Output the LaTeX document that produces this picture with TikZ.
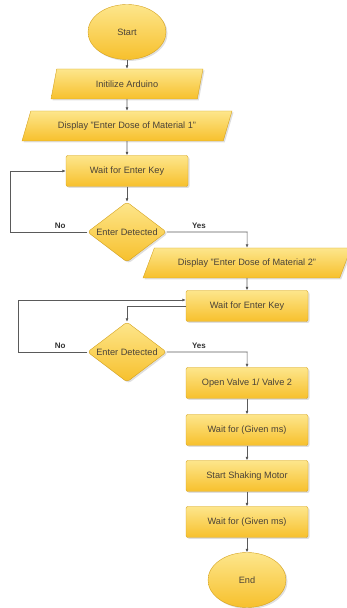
\documentclass[tikz,border=0pt]{standalone}
\usepackage{fontspec}
\setmainfont{Liberation Sans}
\usetikzlibrary{positioning,shapes.geometric,shadows,arrows.meta}

\definecolor{ytop}{HTML}{FDE68C}
\definecolor{ybot}{HTML}{F7C02C}
\definecolor{yline}{HTML}{D5A21E}
\definecolor{ytext}{HTML}{4A4238}
\definecolor{wirecol}{HTML}{5A5A5A}

\tikzset{
  block/.style={draw=yline, top color=ytop, bottom color=ybot,
    text=ytext, font=\fontsize{9.2}{10}\selectfont,
    drop shadow={opacity=0.25, shadow xshift=1.5pt, shadow yshift=-1.5pt}},
  term/.style={block, ellipse, minimum width=78pt, minimum height=55pt},
  io/.style={block, trapezium, trapezium left angle=60, trapezium right angle=120,
    trapezium stretches body, minimum height=30pt, inner sep=2pt},
  proc/.style={block, rectangle, rounded corners=2pt, minimum width=122pt, minimum height=31pt},
  test/.style={block, diamond, rounded corners=3pt, aspect=1.3, inner sep=1pt,
    minimum width=79pt, minimum height=60pt},
  wire/.style={draw=wirecol, line width=0.6pt},
  ans/.style={font=\fontsize{8}{9}\selectfont\bfseries, text=black!80, above}
}

\begin{document}
\begin{tikzpicture}[x=1pt, y=1pt, on grid, >={Latex[length=3.5pt,width=3pt]}]
    \useasboundingbox (0,0) rectangle (347,608);
    \node[term] (start) at (127,576) {Start};
    \node[io, minimum width=152pt, trapezium left angle=62, trapezium right angle=118]
      (init) [below=52pt of start] {Initilize Arduino};
    \node[io, minimum width=210pt, trapezium left angle=55, trapezium right angle=125]
      (disp_a) [below=42pt of init] {Display "Enter Dose of Material 1"};
    \node[proc] (wait_a) [below=45pt of disp_a] {Wait for Enter Key};
    \node[test] (det_a) [below=61pt of wait_a] {Enter Detected};
    \node[io, minimum width=208pt, trapezium left angle=48, trapezium right angle=132]
      (disp_b) [below right=31pt and 120pt of det_a] {Display "Enter Dose of Material 2"};
    \node[proc] (wait_b) [below=43pt of disp_b] {Wait for Enter Key};
    \node[test] (det_b) [below left=46pt and 120pt of wait_b] {Enter Detected};
    \node[proc] (valve) [below right=31pt and 120pt of det_b] {Open Valve 1/ Valve 2};
    \node[proc] (delay_a) [below=47pt of valve] {Wait for (Given ms)};
    \node[proc] (shake) [below=46pt of delay_a] {Start Shaking Motor};
    \node[proc] (delay_b) [below=46pt of shake] {Wait for (Given ms)};
    \node[term] (end) [below=58pt of delay_b] {End};

    \path[->, wire]
    (start) edge (init)
    (init) edge (disp_a)
    (disp_a) edge (wait_a)
    (wait_a) edge (det_a)
    (disp_b) edge (wait_b)
    (valve) edge (delay_a)
    (delay_a) edge (shake)
    (shake) edge (delay_b)
    (delay_b) edge (end);

    % first key loop
    \draw[->, wire] (det_a.west) -- node[ans, pos=0.35] {No} ++(-77.5,0) |- (wait_a.west);
    \draw[->, wire] (det_a.east) -- node[ans, pos=0.4] {Yes} ++(80.5,0) -- (disp_b.north);

    % second key loop
    \draw[->, wire] (wait_b.west) -| (det_b.north);
    \draw[->, wire] (det_b.west) -- node[ans, pos=0.39] {No} ++(-69.5,0) |- ([yshift=6pt]wait_b.west);
    \draw[->, wire] (det_b.east) -- node[ans, pos=0.4] {Yes} ++(80.5,0) -- (valve.north);
  \end{tikzpicture}
\end{document}
